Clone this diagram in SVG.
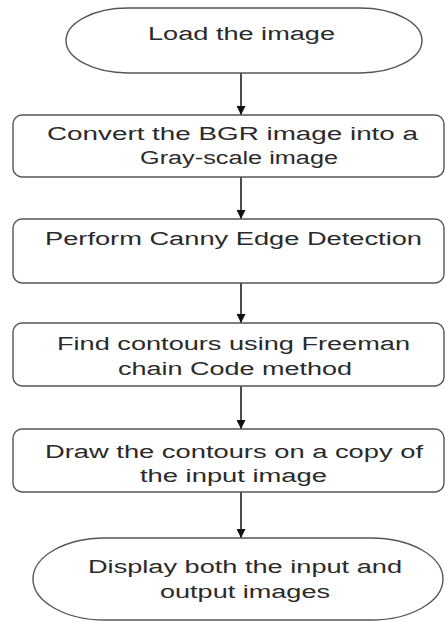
<svg xmlns="http://www.w3.org/2000/svg" width="445" height="622" viewBox="0 0 445 622">
<defs>
<marker id="ah" markerWidth="10" markerHeight="9" refX="9" refY="4.5" orient="auto" markerUnits="userSpaceOnUse">
<path d="M0,0 L9,4.5 L0,9 Z" fill="#111"/>
</marker>
<style>
.shape{fill:#ffffff;stroke:#555555;stroke-width:1.4}
.lbl{font-family:"Liberation Sans",Arial,sans-serif;font-size:18px;fill:#2a2a2a}
.conn{stroke:#111;stroke-width:1.5;fill:none}
</style>
</defs>
<rect width="445" height="622" fill="#ffffff"/>
<g id="connectors">
<line class="conn" x1="241" y1="73" x2="241" y2="115" marker-end="url(#ah)"/>
<line class="conn" x1="241" y1="177" x2="241" y2="219" marker-end="url(#ah)"/>
<line class="conn" x1="241" y1="283" x2="241" y2="323" marker-end="url(#ah)"/>
<line class="conn" x1="241" y1="386" x2="241" y2="429" marker-end="url(#ah)"/>
<line class="conn" x1="241" y1="492" x2="241" y2="538" marker-end="url(#ah)"/>
</g>
<g id="load">
<rect class="shape" x="66" y="8" width="356" height="65" rx="62" ry="32.5"/>
<text class="lbl" x="148" y="40" textLength="187" lengthAdjust="spacingAndGlyphs">Load the image</text>
</g>
<g id="convert">
<rect class="shape" x="13" y="115" width="431" height="62" rx="9" ry="9"/>
<text class="lbl" x="47" y="140" textLength="371" lengthAdjust="spacingAndGlyphs">Convert the BGR image into a</text>
<text class="lbl" x="140" y="164" textLength="198" lengthAdjust="spacingAndGlyphs">Gray-scale image</text>
</g>
<g id="canny">
<rect class="shape" x="13" y="219" width="431" height="64" rx="9" ry="9"/>
<text class="lbl" x="45" y="245" textLength="377" lengthAdjust="spacingAndGlyphs">Perform Canny Edge Detection</text>
</g>
<g id="contours">
<rect class="shape" x="13" y="323" width="431" height="63" rx="9" ry="9"/>
<text class="lbl" x="57" y="350" textLength="353" lengthAdjust="spacingAndGlyphs">Find contours using Freeman</text>
<text class="lbl" x="118" y="375" textLength="234" lengthAdjust="spacingAndGlyphs">chain Code method</text>
</g>
<g id="draw">
<rect class="shape" x="13" y="429" width="431" height="63" rx="9" ry="9"/>
<text class="lbl" x="45" y="458" textLength="378" lengthAdjust="spacingAndGlyphs">Draw the contours on a copy of</text>
<text class="lbl" x="140" y="482" textLength="187" lengthAdjust="spacingAndGlyphs">the input image</text>
</g>
<g id="display">
<rect class="shape" x="33" y="538" width="410" height="82" rx="72" ry="41"/>
<text class="lbl" x="88" y="573" textLength="314" lengthAdjust="spacingAndGlyphs">Display both the input and</text>
<text class="lbl" x="160" y="598" textLength="170" lengthAdjust="spacingAndGlyphs">output images</text>
</g>
</svg>
